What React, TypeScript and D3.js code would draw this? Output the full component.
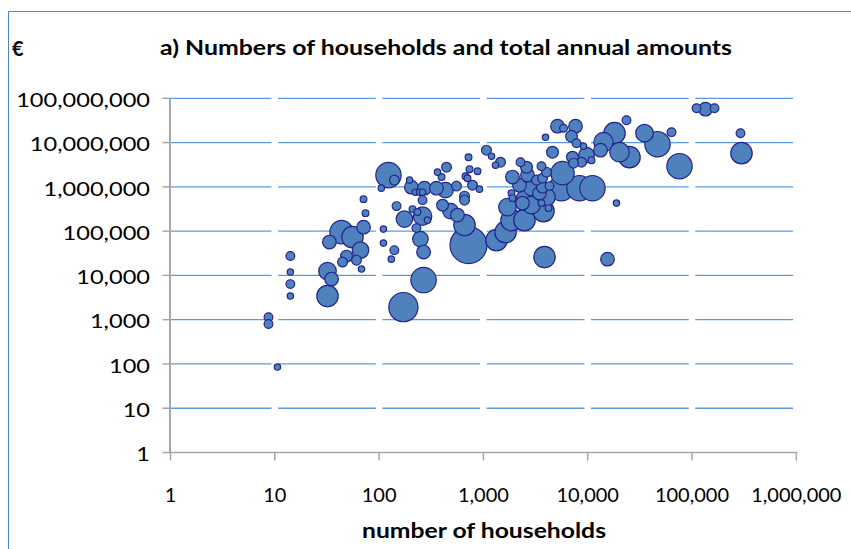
import React from "react";
import * as d3 from "d3";

// number of households per point
const households: number[] = [
  8.7, 8.7, 10.6, 14.1, 14.1, 14.1, 14.1, 32, 35, 32,
  43.6, 55.6, 33.4, 70.9, 66.3, 48.7, 44.6, 60.7, 67.8, 70.9,
  74.1, 123, 140, 105, 147, 196, 204, 223, 244, 261,
  272, 355, 433, 552, 261, 175, 209, 233, 261, 291,
  228, 249, 267, 267, 110, 110, 140, 131, 171, 720,
  659, 406, 484, 564, 443, 363, 397, 720, 736, 878,
  674, 704, 786, 917, 659, 659, 1070, 1196, 1459, 1306,
  1335, 1629, 1859, 2477, 3769, 1702, 1859, 1901, 2219, 1901,
  2268, 2590, 2648, 2371, 2892, 2892, 3229, 3451, 3686, 4027,
  3606, 3686, 4302, 4027, 3606, 4209, 5733, 5608, 8344, 11118,
  4597, 3939, 5134, 5861, 7639, 6995, 7809, 9115, 7150, 9739,
  8722, 7309, 10875, 13267, 18071, 14172, 20177, 25166, 23550, 35040,
  46690, 63610, 75900, 110500, 134700, 164400, 291700, 298200, 18884, 15480,
  3853, 2590,
];

// total annual amounts (€) per point
const amounts: number[] = [
  1140, 796, 85, 27300, 11900, 6360, 3410, 12500, 8250, 3410,
  94900, 73200, 56500, 123000, 37200, 27300, 20000, 22100, 13900, 528000,
  255000, 1840000, 1420000, 935000, 367000, 1420000, 985000, 759000, 759000, 759000,
  935000, 935000, 842000, 1040000, 501000, 187000, 314000, 269000, 218000, 177000,
  117000, 66000, 33600, 7830, 111000, 53600, 37200, 23300, 1920, 48300,
  137000, 386000, 283000, 230000, 2780000, 2150000, 1660000, 4680000, 2510000, 2260000,
  1740000, 1570000, 1090000, 888000, 617000, 501000, 6740000, 4930000, 3610000, 3090000,
  62600, 94900, 177000, 177000, 283000, 348000, 721000, 556000, 1090000, 1660000,
  3610000, 2780000, 1840000, 429000, 935000, 386000, 1420000, 721000, 1570000, 2150000,
  2930000, 985000, 1040000, 586000, 429000, 331000, 2040000, 935000, 935000, 935000,
  6070000, 13200000, 23500000, 21100000, 23500000, 13900000, 9700000, 8300000, 4680000, 5200000,
  3610000, 3430000, 4010000, 6740000, 16300000, 10200000, 6070000, 4680000, 32000000, 16300000,
  9200000, 17200000, 2930000, 59800000, 56800000, 59800000, 16300000, 5760000, 429000, 23300,
  25900, 501000,
];

// bubble sizes (relative)
const sizes: number[] = [
  12, 12, 5, 12, 5, 12, 5, 64, 36, 100,
  121, 100, 36, 36, 56, 25, 16, 16, 5, 6,
  6, 144, 16, 5, 12, 5, 36, 5, 5, 5,
  36, 36, 49, 16, 12, 56, 6, 6, 72, 5,
  12, 49, 36, 144, 5, 5, 12, 5, 196, 324,
  100, 25, 49, 36, 16, 5, 6, 6, 6, 6,
  6, 6, 16, 5, 16, 16, 16, 5, 16, 5,
  100, 100, 100, 100, 100, 64, 6, 6, 36, 36,
  12, 25, 36, 36, 49, 64, 16, 36, 16, 16,
  12, 25, 12, 64, 6, 6, 121, 144, 144, 144,
  25, 5, 36, 9, 36, 25, 12, 5, 25, 49,
  16, 16, 6, 36, 100, 81, 81, 100, 12, 64,
  144, 12, 144, 12, 36, 12, 12, 100, 5, 36,
  100, 100,
];

const xTicks: number[] = [1, 10, 100, 1000, 10000, 100000, 1000000];
const yTicks: number[] = [1, 10, 100, 1000, 10000, 100000, 1000000, 10000000, 100000000];

const title = "a) Numbers of households and total annual amounts";
const xTitle = "number of households";
const yUnit = "€";

export default function App() {
  const W = 851;
  const H = 549;
  const left = 170.5;
  const right = 796.3;
  const top = 98.3;
  const bottom = 452.5;

  const x = d3.scaleLog().domain([1, 1000000]).range([left, right]);
  const y = d3.scaleLog().domain([1, 100000000]).range([bottom, top]);
  const r = d3.scaleSqrt().domain([0, 324]).range([1, 18.5]);
  const fmt = d3.format(",");

  const points = households
    .map((h, i) => ({ h, a: amounts[i], s: sizes[i] }))
    .sort((p, q) => q.s - p.s);

  const font = "Lato, 'Open Sans', sans-serif";
  const gridColor = "#5a9be0";

  // gridline segments between decades, with small gaps at each decade tick
  const segs: { x1: number; x2: number }[] = [];
  for (let i = 0; i < xTicks.length - 1; i++) {
    const a = x(xTicks[i]);
    const b = x(xTicks[i + 1]);
    segs.push({ x1: i === 0 ? a : a + 3.3, x2: b - 3.3 });
  }

  return (
    <svg
      width={W}
      height={H}
      style={{ position: "absolute", left: 0, top: 0, display: "block", background: "#fff" }}
    >
      <rect x={0} y={0} width={W} height={H} fill="#fff" />
      {/* chart border */}
      <line x1={8.5} y1={11.5} x2={W} y2={11.5} stroke="#4a86c8" strokeWidth={1} />
      <line x1={8.5} y1={11.5} x2={8.5} y2={H} stroke="#4a86c8" strokeWidth={1} />

      {/* title */}
      <text
        x={446}
        y={55}
        textAnchor="middle"
        fontFamily={font}
        fontWeight="bold"
        fontSize={20}
        textLength={572}
        lengthAdjust="spacingAndGlyphs"
        fill="#000"
      >
        {title}
      </text>
      <text x={12} y={56} fontFamily={font} fontWeight="bold" fontSize={20} fill="#000">
        {yUnit}
      </text>

      {/* horizontal gridlines */}
      {yTicks
        .filter((t) => t > 1)
        .map((t) =>
          segs.map((s, j) => (
            <line
              key={`g${t}-${j}`}
              x1={s.x1}
              x2={s.x2}
              y1={y(t)}
              y2={y(t)}
              stroke={gridColor}
              strokeWidth={1.3}
            />
          ))
        )}

      {/* axes */}
      <line x1={left - 0.5} x2={left - 0.5} y1={top} y2={bottom} stroke="#a6a6a6" strokeWidth={2} />
      <line x1={left - 1} x2={right + 1} y1={bottom} y2={bottom} stroke="#a6a6a6" strokeWidth={1.5} />
      {yTicks.map((t) => (
        <line key={`yt${t}`} x1={left - 8} x2={left} y1={y(t)} y2={y(t)} stroke="#a6a6a6" strokeWidth={1.5} />
      ))}
      {xTicks.map((t) => (
        <line key={`xt${t}`} x1={x(t)} x2={x(t)} y1={bottom} y2={bottom + 8} stroke="#a6a6a6" strokeWidth={1.5} />
      ))}

      {/* y tick labels (slightly stretched horizontally like the reference) */}
      <g transform="translate(150,0) scale(1.18,1)">
        {yTicks.map((t) => (
          <text
            key={`yl${t}`}
            x={0}
            y={y(t) + 1}
            textAnchor="end"
            dominantBaseline="central"
            fontFamily={font}
            fontSize={20}
            fill="#000"
          >
            {fmt(t)}
          </text>
        ))}
      </g>

      {/* x tick labels */}
      {xTicks.map((t) => (
        <text
          key={`xl${t}`}
          x={x(t)}
          y={494}
          textAnchor="middle"
          dominantBaseline="central"
          fontFamily={font}
          fontSize={20}
          fill="#000"
        >
          {fmt(t)}
        </text>
      ))}

      {/* x axis title */}
      <text
        x={484}
        y={530}
        textAnchor="middle"
        dominantBaseline="central"
        fontFamily={font}
        fontWeight="bold"
        fontSize={20}
        textLength={244}
        lengthAdjust="spacingAndGlyphs"
        fill="#000"
      >
        {xTitle}
      </text>

      {/* bubbles */}
      {points.map((p, i) => (
        <circle
          key={`b${i}`}
          cx={x(p.h)}
          cy={y(p.a)}
          r={r(p.s)}
          fill="#4f81bd"
          stroke="#23248f"
          strokeWidth={1.2}
        />
      ))}
    </svg>
  );
}
